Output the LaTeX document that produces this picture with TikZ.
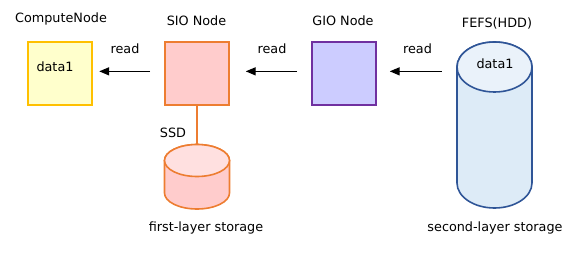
\documentclass[tikz,border=0pt]{standalone}
\usepackage{fontspec}
\setmainfont{DejaVu Sans}
\usetikzlibrary{arrows.meta,calc}
\definecolor{cyfill}{HTML}{FFFFCC}
\definecolor{cydraw}{HTML}{FFC000}
\definecolor{siofill}{HTML}{FFCCCC}
\definecolor{siodraw}{HTML}{ED7D31}
\definecolor{ssdtop}{HTML}{FFE0E0}
\definecolor{giofill}{HTML}{CCCCFF}
\definecolor{giodraw}{HTML}{7030A0}
\definecolor{hddbody}{HTML}{DDEBF7}
\definecolor{hddtop}{HTML}{EAF2FA}
\definecolor{hdddraw}{HTML}{2F5597}
\begin{document}
\begin{tikzpicture}[x=1pt,y=1pt,
  every node/.style={font=\fontsize{12.8}{15}\selectfont, inner sep=0pt},
  box/.style={draw, line width=1.7pt, minimum width=64pt, minimum height=63pt, anchor=north west},
  arr/.style={-{Triangle[length=10pt,width=8pt]}, line width=1.4pt},
  lbl/.style={text=black}]
\useasboundingbox (0,0) rectangle (576,-254);
% boxes
\node[box, draw=cydraw, fill=cyfill] (cn) at (27,-41) {};
\node[box, draw=siodraw, fill=siofill] (sio) at (164,-41) {};
\node[box, draw=giodraw, fill=giofill] (gio) at (311,-41) {};
% titles
\node[lbl] (cnt) at (61,-19) {ComputeNode};
\node[lbl] (siot) at (196.5,-21) {SIO Node};
\node[lbl] (giot) at (343,-21) {GIO Node};
\node[lbl] (fefst) at (497,-23) {FEFS(HDD)};
\node[lbl] (cnd) at (55,-67) {data1};
% SSD cylinder
\path[draw=siodraw, line width=1.6pt, fill=siofill]
  (164.5,-160.5) -- (164.5,-193) arc[start angle=180,end angle=360,x radius=32.5,y radius=16]
  -- (229.5,-160.5) arc[start angle=0,end angle=180,x radius=32.5,y radius=16] -- cycle;
\path[draw=siodraw, line width=1.6pt, fill=ssdtop] (197,-160.5) ellipse[x radius=32.5,y radius=16];
\node[inner sep=0pt, minimum width=65pt, minimum height=65pt, anchor=north] (ssd) at (197,-144.5) {};
% HDD cylinder
\path[draw=hdddraw, line width=1.6pt, fill=hddbody]
  (457,-67) -- (457,-183) arc[start angle=180,end angle=360,x radius=37.5,y radius=25]
  -- (532,-67) arc[start angle=0,end angle=180,x radius=37.5,y radius=25] -- cycle;
\path[draw=hdddraw, line width=1.6pt, fill=hddtop] (494.5,-67) ellipse[x radius=37.5,y radius=25];
\node[inner sep=0pt, minimum width=75pt, minimum height=166pt, anchor=north] (fefs) at (494.5,-42) {};
\node[lbl] (fefsd) at (495,-64) {data1};
% SSD link
\draw[siodraw, line width=2pt] (sio.south -| ssd.north) -- (ssd.north);
\node[lbl] (ssdl) at (173,-133) {SSD};
% arrows
\draw[arr, shorten <=14pt, shorten >=6.5pt] ([yshift=2pt]sio.west) -- ([yshift=2pt]cn.east);
\draw[arr, shorten <=14pt, shorten >=16pt] ([yshift=2pt]gio.west) -- ([yshift=2pt]sio.east);
\draw[arr, shorten <=15pt, shorten >=13pt] ([yshift=2pt]gio.east -| fefs.west) -- ([yshift=2pt]gio.east);
\node[lbl] (r1) at (125,-49) {read};
\node[lbl] (r2) at (272,-49) {read};
\node[lbl] (r3) at (417.5,-49) {read};
% captions
\node[lbl] (fl) at (206,-228) {first-layer storage};
\node[lbl] (sl) at (495,-228) {second-layer storage};
\end{tikzpicture}
\end{document}
